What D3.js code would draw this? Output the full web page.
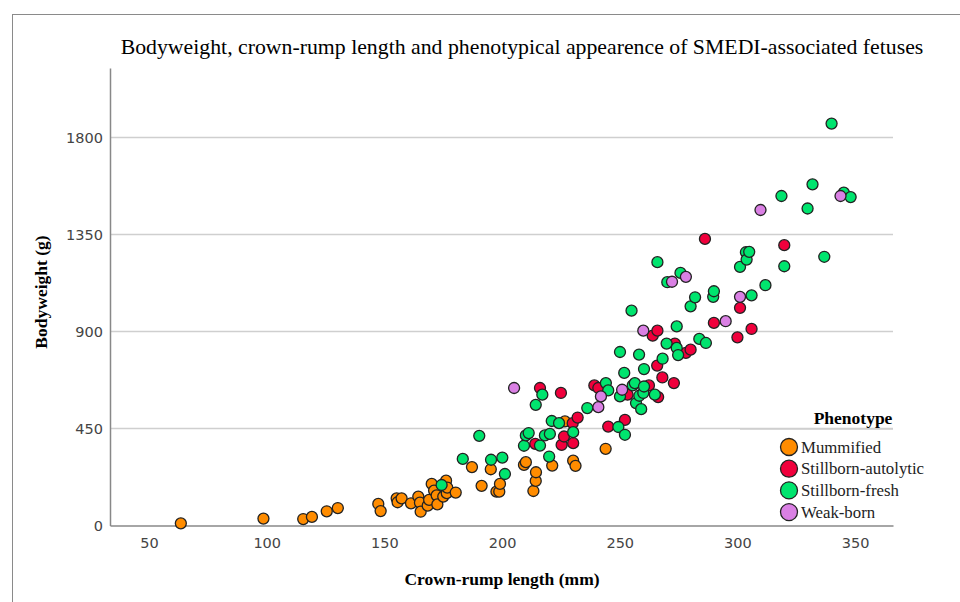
<!DOCTYPE html>
<html lang="en">
  <head>
    <meta charset="utf-8">
    <title>SMEDI fetuses</title>
    <script src="https://d3js.org/d3.v7.min.js"></script>
    <style>
      body { margin: 0; background: #fff; }
    </style>
  </head>
  <body>
    <div id="here"></div>
    <script>
      // crown-rump length (mm), bodyweight (g)
      var mummified = [
        [63.5,10],[98.6,32],[115.5,30],[119.2,40],[125.5,66],[130.2,81],
        [147.4,100],[148.4,67],[155.2,126],[155.6,108],[157.3,126],[161.3,103],[164.4,134],[165.1,106],
        [165.4,64],[168.4,92],[169,119],[170.1,193],[171.1,162],[172.2,140],[172.5,98],[175,134],
        [176.2,208],[176.5,150],[176.7,176],[180.3,153],
        [187.2,271],[191.3,184],[195.2,261],[197.6,157],[198.8,157],[199.1,193],
        [209.3,281],[210.1,294],[213.3,160],[214.3,207],[214.4,247],[221.3,278],[226.7,483],
        [230.2,301],[231.2,277],[244.0,356]
      ];
      var autolytic = [
        [214.1,379],[216.1,638],[225.0,615],[225.3,374],[226.3,413],[230.0,475],[230.2,382],[232.1,501],
        [239.2,650],[240.9,638],[245.1,459],[252.2,490],[253.3,607],[262.4,650],[264.0,881],[266.0,904],
        [265.9,742],[266.3,596],[268.1,687],[273.0,661],[273.4,844],[278.1,801],[280.1,816],[286.2,1330],
        [290.0,940],[300.0,873],[301.1,1010],[306.0,912],[319.9,1301]
      ];
      var fresh = [
        [174.3,188],[183.3,309],[190.3,416],[195.3,305],[200.1,315],[201.2,239],[209.3,370],[210.1,418],
        [211.3,429],[214.3,560],[216.1,371],[217.1,607],[218.2,418],[220.0,320],[220.3,425],[221.1,485],
        [224.2,475],[230.2,433],[236.2,545],[244.1,661],[245.1,627],[249.4,457],[250.1,599],[250.1,805],
        [251.9,708],[252.2,421],[255.0,997],[255.5,650],[256.4,661],[256.9,568],[258.2,793],[258.3,602],
        [259.1,540],[260.0,615],[260.3,645],[260.3,726],[264.9,607],[266.0,1222],[268.2,774],[269.9,844],
        [270.2,1129],[274.2,824],[274.2,924],[274.8,791],[275.8,1172],[280.1,1017],[282.0,1059],[283.8,866],
        [286.6,847],[289.7,1061],[290.0,1087],[301.1,1200],[303.6,1268],[303.9,1234],[305.0,1270],[306.0,1068],
        [311.9,1115],[318.7,1529],[319.9,1203],[329.8,1471],[331.9,1583],[336.9,1247],[340.0,1865],
        [345.2,1545],[348.1,1524]
      ];
      var weakborn = [
        [205.1,638],[240.9,549],[242.0,599],[251.0,630],[260.0,904],[272.2,1131],[278.1,1154],
        [295.0,948],[301.1,1061],[309.8,1464],[343.8,1529]
      ];

      var phenotypes = ["Mummified", "Stillborn-autolytic", "Stillborn-fresh", "Weak-born"];
      var colors = ["#ff8c00", "#f0003c", "#00e46e", "#da80e4"];
      var groups = [mummified, autolytic, fresh, weakborn];

      var xTicks = [50, 100, 150, 200, 250, 300, 350];
      var yTicks = [0, 450, 900, 1350, 1800];

      var W = 960, H = 602;
      var serif = "'Liberation Serif', 'Times New Roman', serif";

      var svg = d3.select("#here").append("svg")
        .attr("width", W)
        .attr("height", H);

      // outer frame
      svg.append("rect")
        .attr("x", 12.5).attr("y", 14.5)
        .attr("width", 960).attr("height", 600)
        .attr("fill", "none")
        .attr("stroke", "#8a8a8a");

      var x = d3.scaleLinear().domain([33.4, 366.1]).range([110, 893]);
      var y = d3.scaleLinear().domain([0, 2123]).range([525.5, 68]);

      // grid
      svg.append("g").selectAll("line")
        .data(yTicks.filter(function(d) { return d > 0; }))
        .enter().append("line")
        .attr("x1", x.range()[0]).attr("x2", x.range()[1])
        .attr("y1", function(d) { return y(d); })
        .attr("y2", function(d) { return y(d); })
        .attr("stroke", "#cfcfcf")
        .attr("stroke-width", 1.5);

      // axes
      var ax = svg.append("g")
        .attr("transform", "translate(0," + y(0) + ")")
        .call(d3.axisBottom(x).tickValues(xTicks).tickFormat(d3.format("d")).tickSize(0).tickPadding(12));
      var ay = svg.append("g")
        .attr("transform", "translate(" + x.range()[0] + ",0)")
        .call(d3.axisLeft(y).tickValues(yTicks).tickFormat(d3.format("d")).tickSize(0).tickPadding(7));

      [ax, ay].forEach(function(a) {
        a.select(".domain").attr("stroke", "#888").attr("stroke-width", 1.5);
        a.selectAll("text")
          .attr("font-family", "'DejaVu Sans', sans-serif")
          .attr("font-size", 14.5)
          .attr("fill", "#444");
      });

      // points
      groups.forEach(function(g, i) {
        svg.append("g").selectAll("circle")
          .data(g)
          .enter().append("circle")
          .attr("cx", function(d) { return x(d[0]); })
          .attr("cy", function(d) { return y(d[1]); })
          .attr("r", 5.5)
          .attr("fill", colors[i])
          .attr("stroke", "#222")
          .attr("stroke-width", 1.3);
      });

      // title
      var title = svg.append("text")
        .attr("x", 522).attr("y", 54)
        .attr("text-anchor", "middle")
        .attr("font-family", serif)
        .attr("font-size", 20)
        .text("Bodyweight, crown-rump length and phenotypical appearence of SMEDI-associated fetuses");
      var tw = title.node().getComputedTextLength();
      title.attr("font-size", 20 * 803 / tw);

      svg.append("text")
        .attr("x", 502).attr("y", 585)
        .attr("text-anchor", "middle")
        .attr("font-family", serif)
        .attr("font-weight", "bold")
        .attr("font-size", 17.5)
        .text("Crown-rump length (mm)");

      svg.append("text")
        .attr("transform", "translate(47,292) rotate(-90)")
        .attr("text-anchor", "middle")
        .attr("font-family", serif)
        .attr("font-weight", "bold")
        .attr("font-size", 17.5)
        .text("Bodyweight (g)");

      // legend
      var leg = svg.append("g");
      leg.append("text")
        .attr("x", 853).attr("y", 424)
        .attr("text-anchor", "middle")
        .attr("font-family", serif)
        .attr("font-weight", "bold")
        .attr("font-size", 17.5)
        .text("Phenotype");
      leg.append("line")
        .attr("x1", 740).attr("x2", 893)
        .attr("y1", 429).attr("y2", 429)
        .attr("stroke", "#cfcfcf")
        .attr("stroke-width", 1.5);

      var item = leg.selectAll("g.item")
        .data(phenotypes)
        .enter().append("g")
        .attr("class", "item")
        .attr("transform", function(d, i) { return "translate(789," + (447 + i * 21.7) + ")"; });
      item.append("circle")
        .attr("r", 8.5)
        .attr("fill", function(d, i) { return colors[i]; })
        .attr("stroke", "#222")
        .attr("stroke-width", 1.3);
      item.append("text")
        .attr("x", 12).attr("y", 5.5)
        .attr("font-family", serif)
        .attr("font-size", 16.8)
        .attr("fill", "#222")
        .text(function(d) { return d; });
    </script>
  </body>
</html>
